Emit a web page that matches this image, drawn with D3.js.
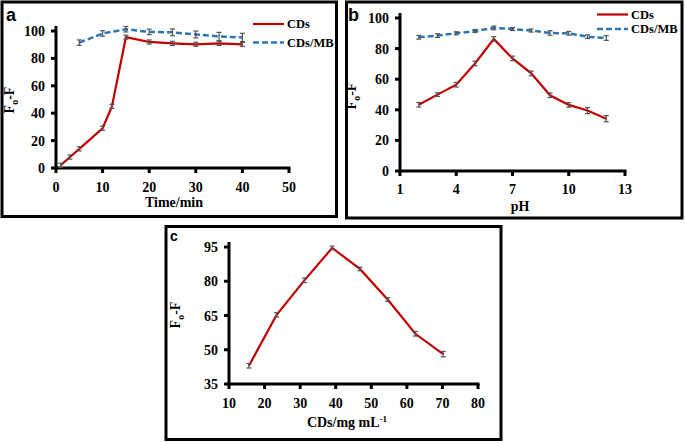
<!DOCTYPE html>
<html><head><meta charset="utf-8">
<script src="https://cdn.jsdelivr.net/npm/d3@7"></script>
<style>
body{margin:0;background:#fff;}
svg{display:block;}
text{font-family:"Liberation Serif","Times New Roman",serif;font-weight:bold;fill:#000;}
</style></head>
<body>
<svg id="chart" width="685" height="442"></svg>
<script>
// Panel a: time
const timeCDs = [1, 3, 5, 10, 12, 15, 20, 25, 30, 35, 40];
const valCDsA = [2, 8, 14, 29, 45, 95.5, 92, 91, 90.3, 91, 90.2];
const errCDsA = [1.5, 1.5, 1.5, 1.5, 1.5, 1.5, 1.5, 1.5, 1.5, 1.5, 1.5];
const timeMB = [5, 10, 15, 20, 25, 30, 35, 40];
const valMBA = [91.5, 98.2, 101.3, 99.3, 99, 97.5, 96, 95.3];
const errMBA = [2, 2, 2, 2, 2.5, 2.5, 3, 3];
const ticksAX = [0, 10, 20, 30, 40, 50];
const ticksAY = [0, 20, 40, 60, 80, 100];

// Panel b: pH
const pH = [2, 3, 4, 5, 6, 7, 8, 9, 10, 11, 12];
const valCDsB = [43.3, 49.9, 56.4, 70.3, 86.3, 73.6, 63.8, 49.5, 43.2, 39.5, 34.2];
const errCDsB = [1.5, 1.2, 1.5, 1.5, 1.5, 1.5, 1.5, 1.5, 1.5, 2, 2];
const valMBB = [87.4, 88.5, 90, 91.5, 93.5, 92.8, 91.8, 90.2, 90, 87.8, 86.9];
const errMBB = [1.2, 1.2, 1, 1, 1.2, 1, 1, 1.5, 1.2, 1.2, 1.5];
const ticksBX = [1, 4, 7, 10, 13];
const ticksBY = [0, 20, 40, 60, 80, 100];

// Panel c: concentration
const conc = [15.6, 23.4, 31.2, 39, 46.8, 54.6, 62.4, 70.2];
const valC = [43, 65.3, 80.4, 94.6, 85.4, 72, 57, 48.1];
const errC = [1, 1, 1, 0.8, 0.8, 0.8, 1, 1.2];
const ticksCX = [10, 20, 30, 40, 50, 60, 70, 80];
const ticksCY = [35, 50, 65, 80, 95];

const legendNames = ["CDs", "CDs/MB"];
const RED = "#c00000", BLUE = "#2e75b6", ERR = "#555";

const svg = d3.select("#chart");

function frame(x0, y0, x1, y1, label, lx, ly, lsize) {
  svg.append("rect").attr("x", x0).attr("y", y0).attr("width", x1 - x0).attr("height", y1 - y0)
    .attr("fill", "none").attr("stroke", "#000").attr("stroke-width", 3);
  svg.append("text").attr("x", lx).attr("y", ly).text(label)
    .style("font-family", "Liberation Sans, Arial, sans-serif").style("font-size", lsize + "px");
}

function axes(x, y, xt, yt, xTitle, xtx, xty, ytx, yty, xLabelY) {
  const xr = x.range(), yr = y.range();
  const g = svg.append("g");
  g.append("line").attr("x1", xr[0] - 1.5).attr("x2", xr[1] + 1.5).attr("y1", yr[0]).attr("y2", yr[0])
    .attr("stroke", "#000").attr("stroke-width", 3);
  g.append("line").attr("x1", xr[0]).attr("x2", xr[0]).attr("y1", yr[0]).attr("y2", yr[1] - 5)
    .attr("stroke", "#000").attr("stroke-width", 3);
  xt.forEach(t => {
    g.append("line").attr("x1", x(t)).attr("x2", x(t)).attr("y1", yr[0]).attr("y2", yr[0] + 5)
      .attr("stroke", "#000").attr("stroke-width", 3);
    g.append("text").attr("x", x(t)).attr("y", xLabelY).attr("text-anchor", "middle")
      .style("font-size", "14px").text(t);
  });
  yt.forEach(t => {
    g.append("line").attr("x1", xr[0] - 5).attr("x2", xr[0]).attr("y1", y(t)).attr("y2", y(t))
      .attr("stroke", "#000").attr("stroke-width", 3);
    g.append("text").attr("x", xr[0] - 11).attr("y", y(t) + 5).attr("text-anchor", "end")
      .style("font-size", "14px").text(t);
  });
  const xtEl = g.append("text").attr("x", xtx).attr("y", xty).attr("text-anchor", "middle").style("font-size", "14px");
  if (Array.isArray(xTitle)) {
    xtEl.append("tspan").text(xTitle[0]);
    xtEl.append("tspan").attr("dy", -5).style("font-size", "9px").text(xTitle[1]);
  } else xtEl.text(xTitle);
  const yEl = g.append("text").attr("transform", `translate(${ytx},${yty}) rotate(-90)`)
    .attr("text-anchor", "middle").style("font-size", "14px");
  yEl.append("tspan").text("F");
  yEl.append("tspan").attr("dy", 4).style("font-size", "10px").text("o");
  yEl.append("tspan").attr("dy", -4).text("-F");
}

function series(x, y, xs, ys, es, color, dashed) {
  const pts = xs.map((d, i) => [d, ys[i], es[i]]);
  const line = d3.line().x(d => x(d[0])).y(d => y(d[1]));
  svg.append("path").datum(pts).attr("d", line).attr("fill", "none").attr("stroke", color)
    .attr("stroke-width", dashed ? 2.5 : 2.2).attr("stroke-dasharray", dashed ? "6,3" : null);
  const eg = svg.append("g").attr("stroke", ERR).attr("stroke-width", 1.2);
  pts.forEach(d => {
    const cx = x(d[0]), t = y(d[1] + d[2]), b = y(d[1] - d[2]);
    eg.append("line").attr("x1", cx).attr("x2", cx).attr("y1", t).attr("y2", b);
    eg.append("line").attr("x1", cx - 2.5).attr("x2", cx + 2.5).attr("y1", t).attr("y2", t);
    eg.append("line").attr("x1", cx - 2.5).attr("x2", cx + 2.5).attr("y1", b).attr("y2", b);
  });
}

function legend(x0, y0, gap) {
  [[RED, false], [BLUE, true]].forEach((s, i) => {
    const yy = y0 + i * gap;
    svg.append("line").attr("x1", x0).attr("x2", x0 + 31).attr("y1", yy).attr("y2", yy)
      .attr("stroke", s[0]).attr("stroke-width", s[1] ? 2.5 : 2.2).attr("stroke-dasharray", s[1] ? "6,3" : null);
    svg.append("text").attr("x", x0 + 34).attr("y", yy + 4).style("font-size", "12.5px").text(legendNames[i]);
  });
}

// Panel a
frame(2, 2, 336.5, 216.5, "a", 6, 21, 18);
const xa = d3.scaleLinear().domain([0, 50]).range([56, 289]);
const ya = d3.scaleLinear().domain([0, 100]).range([168, 31]);
axes(xa, ya, ticksAX, ticksAY, "Time/min", 174, 207, 14, 100, 192);
series(xa, ya, timeCDs, valCDsA, errCDsA, RED, false);
series(xa, ya, timeMB, valMBA, errMBA, BLUE, true);
legend(253, 24, 18.5);

// Panel b
frame(346.5, 2, 682, 218, "b", 348, 21, 18);
const xb = d3.scaleLinear().domain([1, 13]).range([400, 625]);
const yb = d3.scaleLinear().domain([0, 100]).range([171, 18]);
axes(xb, yb, ticksBX, ticksBY, "pH", 520, 211, 356, 96, 193.5);
series(xb, yb, pH, valCDsB, errCDsB, RED, false);
series(xb, yb, pH, valMBB, errMBB, BLUE, true);
legend(597, 14.5, 14.5);

// Panel c
frame(166, 226.5, 501, 439.5, "c", 170, 241, 14);
const xc = d3.scaleLinear().domain([10, 80]).range([229, 478]);
const yc = d3.scaleLinear().domain([35, 95]).range([384, 247]);
axes(xc, yc, ticksCX, ticksCY, ["CDs/mg mL", "-1"], 347, 427, 180, 315, 408);
series(xc, yc, conc, valC, errC, RED, false);
</script>
</body></html>
